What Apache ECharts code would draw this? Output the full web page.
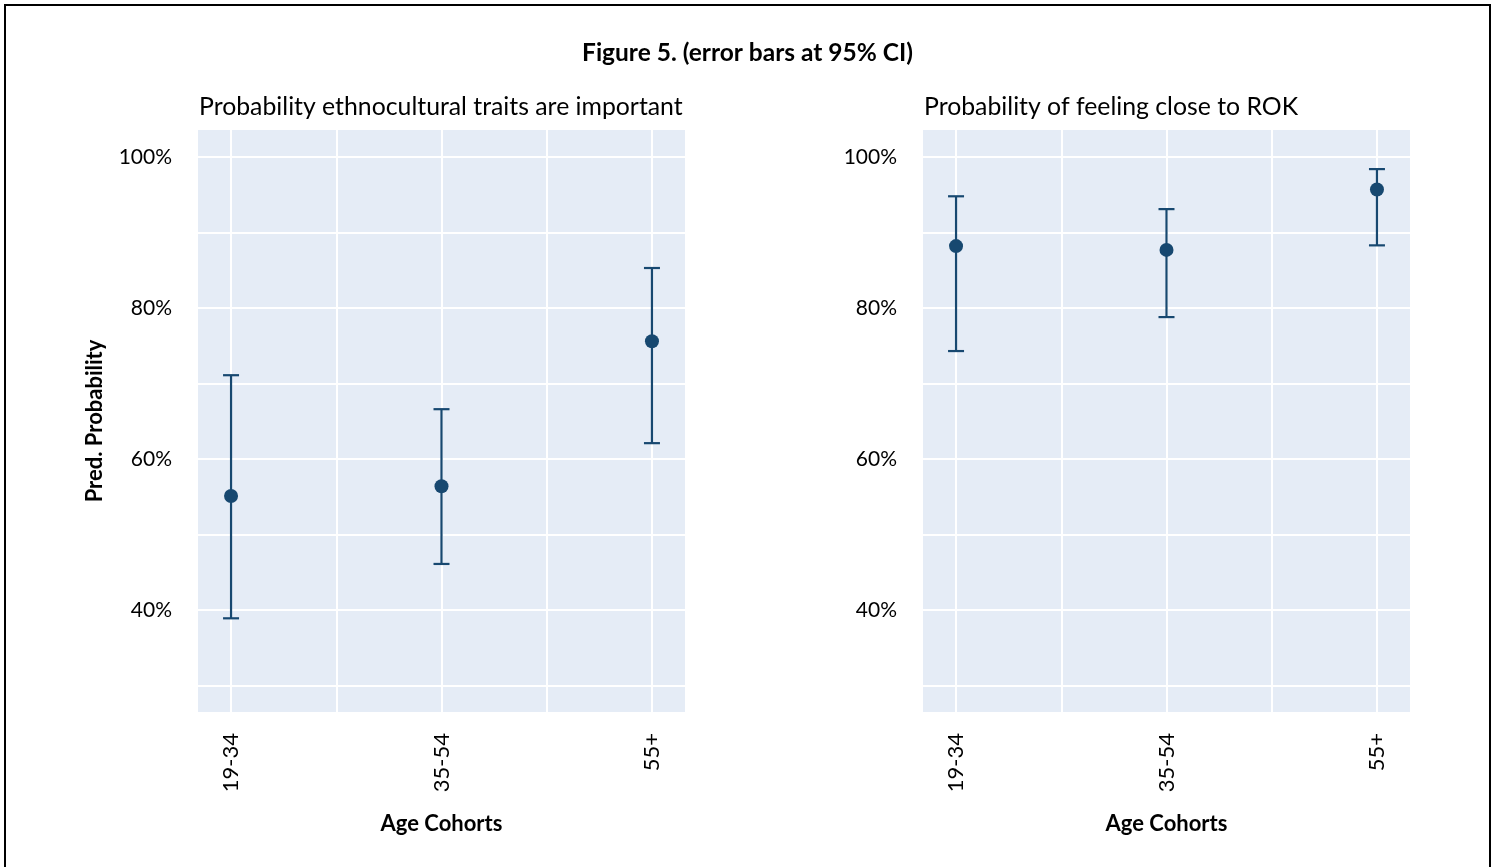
<!DOCTYPE html>
<html>
<head>
<meta charset="utf-8">
<script src="https://cdn.jsdelivr.net/npm/echarts@6/dist/echarts.min.js"></script>
<style>
html,body{margin:0;padding:0;background:#fff;}
#chart{width:1495px;height:867px;}
</style>
</head>
<body>
<div id="chart"></div>
<script>
// ---- data ----
const categories = ['19-34', '35-54', '55+'];
// Panel 1: Probability ethnocultural traits are important
const ethnoPoint = [55.1, 56.4, 75.6];
const ethnoLow   = [38.9, 46.1, 62.1];
const ethnoHigh  = [71.1, 66.6, 85.3];
// Panel 2: Probability of feeling close to ROK
const closePoint = [88.2, 87.7, 95.7];
const closeLow   = [74.3, 78.8, 88.3];
const closeHigh  = [94.8, 93.1, 98.4];
const yLabelTicks = [40, 60, 80, 100];
const yGridTicks = [30, 40, 50, 60, 70, 80, 90, 100];
const xGridTicks = [0, 0.5, 1, 1.5, 2];

const FONT = 'Lato';
const COLOR = '#174870';
const BG = '#E5ECF6';

const chart = echarts.init(document.getElementById('chart'));

function xAxis(idx) {
  return {
    type: 'value', gridIndex: idx, min: -0.157, max: 2.157,
    name: 'Age Cohorts', nameLocation: 'middle', nameGap: 101,
    nameTextStyle: {fontFamily: FONT, fontSize: 22, fontWeight: 'bold', color: '#000'},
    axisLine: {show: false},
    axisTick: {show: false, customValues: xGridTicks},
    axisLabel: {
      customValues: [0, 1, 2], rotate: 90, margin: 21,
      fontFamily: FONT, fontSize: 22, color: '#000',
      formatter: v => categories[Math.round(v)]
    },
    splitLine: {show: true, lineStyle: {color: '#fff', width: 2}}
  };
}
function yAxis(idx, withName) {
  return {
    type: 'value', gridIndex: idx, min: 26.49, max: 103.58,
    name: withName ? 'Pred. Probability' : '', nameLocation: 'middle', nameGap: 92,
    nameTextStyle: {fontFamily: FONT, fontSize: 22, fontWeight: 'bold', color: '#000'},
    axisLine: {show: false},
    axisTick: {show: false, customValues: yGridTicks},
    axisLabel: {
      customValues: yLabelTicks, margin: 26,
      fontFamily: FONT, fontSize: 21, color: '#000',
      formatter: v => v + '%'
    },
    splitLine: {show: true, lineStyle: {color: '#fff', width: 2}}
  };
}

function errorSeries(idx, low, high) {
  const data = categories.map((c, i) => [i, low[i], high[i]]);
  return {
    type: 'custom', xAxisIndex: idx, yAxisIndex: idx, z: 3,
    data: data,
    renderItem: function (params, api) {
      const x = api.value(0);
      const lo = api.coord([x, api.value(1)]);
      const hi = api.coord([x, api.value(2)]);
      const hw = 8;
      const style = {stroke: COLOR, lineWidth: 2.2, fill: null};
      return {
        type: 'group',
        children: [
          {type: 'line', shape: {x1: lo[0], y1: lo[1], x2: hi[0], y2: hi[1]}, style: style},
          {type: 'line', shape: {x1: lo[0] - hw, y1: lo[1], x2: lo[0] + hw, y2: lo[1]}, style: style},
          {type: 'line', shape: {x1: hi[0] - hw, y1: hi[1], x2: hi[0] + hw, y2: hi[1]}, style: style}
        ]
      };
    }
  };
}
function pointSeries(idx, pts) {
  return {
    type: 'scatter', xAxisIndex: idx, yAxisIndex: idx, z: 4,
    symbol: 'circle', symbolSize: 14,
    itemStyle: {color: COLOR, opacity: 1},
    data: pts.map((v, i) => [i, v])
  };
}

chart.setOption({
  animation: false,
  backgroundColor: '#fff',
  title: [
    {text: 'Figure 5. (error bars at 95% CI)', left: 'center', top: 41, padding: 0,
     textStyle: {fontFamily: FONT, fontSize: 24.5, fontWeight: 'bold', color: '#000'}},
    {text: 'Probability ethnocultural traits are important', left: 199, top: 95, padding: 0,
     textStyle: {fontFamily: FONT, fontSize: 24.8, fontWeight: 'normal', color: '#000'}},
    {text: 'Probability of feeling close to ROK', left: 924, top: 95, padding: 0,
     textStyle: {fontFamily: FONT, fontSize: 24.8, fontWeight: 'normal', color: '#000'}}
  ],
  graphic: [
    {type: 'rect', shape: {x: 5, y: 5, width: 1485, height: 900},
     style: {fill: null, stroke: '#000', lineWidth: 2}, silent: true}
  ],
  grid: [
    {left: 198, top: 130, width: 487, height: 582, show: true, backgroundColor: BG, borderWidth: 0},
    {left: 923, top: 130, width: 487, height: 582, show: true, backgroundColor: BG, borderWidth: 0}
  ],
  xAxis: [xAxis(0), xAxis(1)],
  yAxis: [yAxis(0, true), yAxis(1, false)],
  series: [
    errorSeries(0, ethnoLow, ethnoHigh),
    pointSeries(0, ethnoPoint),
    errorSeries(1, closeLow, closeHigh),
    pointSeries(1, closePoint)
  ]
});
</script>
</body>
</html>
